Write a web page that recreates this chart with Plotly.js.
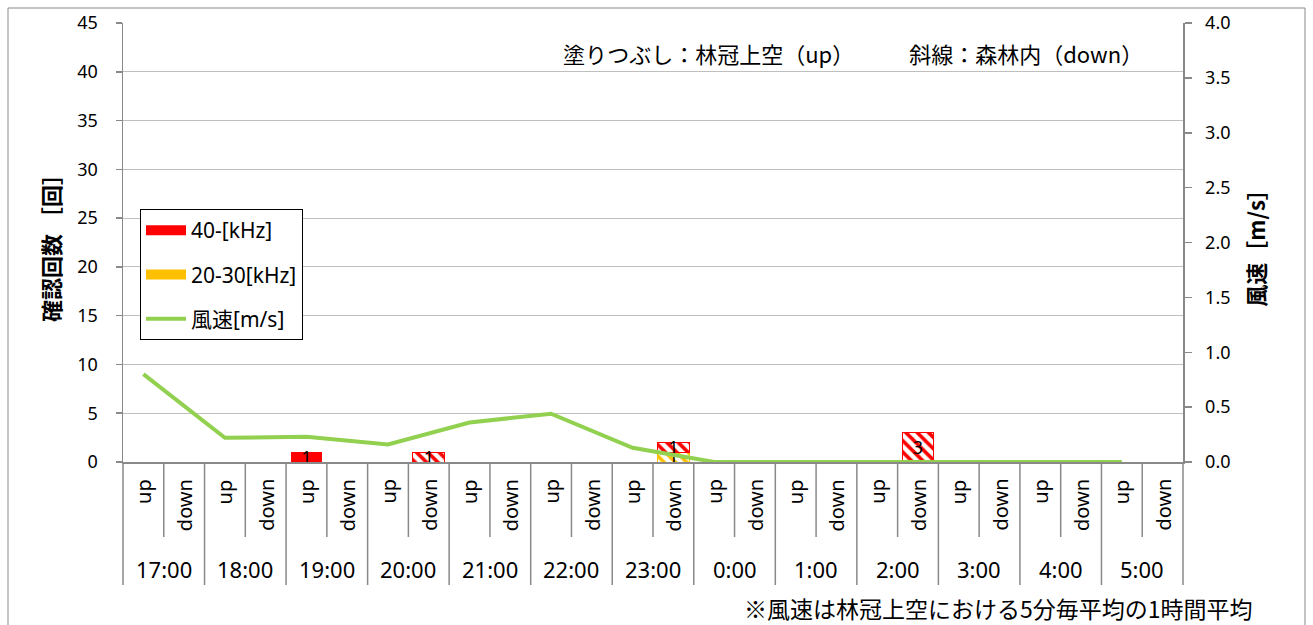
<!DOCTYPE html>
<html>
<head>
<meta charset="utf-8">
<script src="https://cdn.plot.ly/plotly-3.0.1.min.js"></script>
<style>
html,body{margin:0;padding:0;background:#fff;}
#chart{width:1313px;height:625px;}
</style>
</head>
<body>
<div id="chart"></div>
<script>
// ---- data ----
const hours = ['17:00','18:00','19:00','20:00','21:00','22:00','23:00','0:00','1:00','2:00','3:00','4:00','5:00'];
const subLabels = ['up','down'];
const up40 = [0,0,1,0,0,0,0,0,0,0,0,0,0];
const down40 = [0,0,0,1,0,0,1,0,0,3,0,0,0];
const up2030 = [0,0,0,0,0,0,0,0,0,0,0,0,0];
const down2030 = [0,0,0,0,0,0,1,0,0,0,0,0,0];
const wind = [0.80,0.22,0.23,0.16,0.36,0.44,0.13,0,0,0,0,0,0];
const seriesNames = ['40-[kHz]','20-30[kHz]','風速[m/s]'];

const nSlots = hours.length * subLabels.length;
const xUp = hours.map((h,i)=>2*i);
const xDown = hours.map((h,i)=>2*i+1);
const lbl = v => v.map(n => n > 0 ? String(n) : '');

const numFont = '"Noto Sans", sans-serif';
const jpFont = '"Noto Sans CJK JP", sans-serif';
const RED = '#FF0000', ORANGE = '#FFC000', GREEN = '#92D050';

function barTrace(x, y, color, hatched){
  const t = {
    type:'bar', x:x, y:y, yaxis:'y', showlegend:false,
    text: lbl(y), textposition:'inside', insidetextanchor:'middle',
    constraintext:'none', textangle:0, cliponaxis:false,
    insidetextfont:{family:numFont, size:18, color:'#000'},
    hoverinfo:'skip'
  };
  if(hatched){
    t.marker = {color:'#FFFFFF', line:{color:color, width:1},
      pattern:{shape:'\\', fgcolor:color, bgcolor:'#FFFFFF', size:8, solidity:0.45}};
  } else {
    t.marker = {color:color, line:{width:0}};
  }
  return t;
}
function legendSwatch(name, color, rank){
  return {type:'scatter', mode:'lines', x:[null], y:[null], name:name,
    line:{color:color, width:14}, legendrank:rank, legendgroup:name, hoverinfo:'skip'};
}

const traces = [
  barTrace(xUp, up2030, ORANGE, false),
  barTrace(xDown, down2030, ORANGE, true),
  barTrace(xUp, up40, RED, false),
  barTrace(xDown, down40, RED, true),
  legendSwatch(seriesNames[0], RED, 1),
  legendSwatch(seriesNames[1], ORANGE, 2),
  {type:'scatter', mode:'lines', x:xUp, y:wind, yaxis:'y2', name:seriesNames[2],
   line:{color:GREEN, width:4}, legendrank:3, legendgroup:'wind', hoverinfo:'skip'}
];

// ---- category axis labels & separators ----
const annotations = [];
const shapes = [];
for(let i=0;i<nSlots;i++){
  annotations.push({xref:'x', yref:'paper', x:i, y:0, yshift:-15,
    text: subLabels[i%2], textangle:-90, showarrow:false,
    xanchor:'center', yanchor:'top', font:{family:numFont, size:20, color:'#000'}});
}
hours.forEach((h,i)=>{
  annotations.push({xref:'x', yref:'paper', x:2*i+0.5, y:0, yshift:-107,
    text:h, showarrow:false, xanchor:'center', yanchor:'middle',
    font:{family:numFont, size:22, color:'#000'}});
});
const plotH = 439;
for(let k=0;k<=nSlots;k++){
  const long = (k%2===0);
  shapes.push({type:'line', xref:'paper', yref:'paper', x0:k/nSlots, x1:k/nSlots,
    y0:0, y1: -(long?123:75)/plotH, line:{color:'#898989', width:1.5}});
}
// outer chart border
shapes.push({type:'rect', xref:'paper', yref:'paper',
  x0:-115/1060, x1:(1305-123)/1060, y0:-0.7, y1:(462-8)/plotH,
  line:{color:'#898989', width:1}, fillcolor:'rgba(0,0,0,0)'});

annotations.push({xref:'paper', yref:'paper', x:(1145-123)/1060, y:(462-53)/plotH,
  xanchor:'right', yanchor:'middle', showarrow:false,
  text:'塗りつぶし：林冠上空（up）　　　斜線：森林内（down）',
  font:{family:jpFont, size:22, color:'#000'}});
annotations.push({xref:'paper', yref:'paper', x:(1255-123)/1060, y:(462-608)/plotH,
  xanchor:'right', yanchor:'middle', showarrow:false,
  text:'※風速は林冠上空における5分毎平均の1時間平均',
  font:{family:jpFont, size:23, color:'#000'}});

const layout = {
  width:1313, height:625,
  margin:{l:123, r:130, t:23, b:163, pad:0},
  paper_bgcolor:'#fff', plot_bgcolor:'#fff',
  barmode:'stack', bargap:0.22,
  showlegend:true,
  legend:{x:17/1060, y:(462-209)/plotH, xanchor:'left', yanchor:'top',
    bordercolor:'#000', borderwidth:1, bgcolor:'#fff',
    font:{family:'"Noto Sans", "Noto Sans CJK JP", sans-serif', size:21, color:'#000'},
    tracegroupgap:14, itemwidth:40, traceorder:'grouped'},
  xaxis:{range:[-0.5, nSlots-0.5], showticklabels:false, ticks:'', showgrid:false,
    zeroline:false, showline:true, linecolor:'#898989', linewidth:1.5, fixedrange:true},
  yaxis:{range:[0,45], dtick:5, tick0:0, showgrid:true, gridcolor:'#BFBFBF', gridwidth:1,
    zeroline:false, showline:true, linecolor:'#898989', linewidth:1.5,
    ticks:'outside', ticklen:6, tickcolor:'#898989', tickwidth:1.5, ticklabelstandoff:14,
    tickfont:{family:numFont, size:18, color:'#000'},
    title:{text:'確認回数 ［回］', standoff:10, font:{family:jpFont, size:22, color:'#000', weight:'bold'}}},
  yaxis2:{range:[0,4], dtick:0.5, tick0:0, tickformat:'.1f', overlaying:'y', side:'right',
    showgrid:false, zeroline:false, showline:true, linecolor:'#898989', linewidth:1.5,
    ticks:'outside', ticklen:7, tickcolor:'#898989', tickwidth:1.5, ticklabelstandoff:10,
    tickfont:{family:numFont, size:18, color:'#000'},
    title:{text:'風速［m/s］', standoff:20, font:{family:jpFont, size:22, color:'#000', weight:'bold'}}},
  annotations: annotations,
  shapes: shapes
};

Plotly.newPlot('chart', traces, layout, {displayModeBar:false, staticPlot:true});
</script>
</body>
</html>
